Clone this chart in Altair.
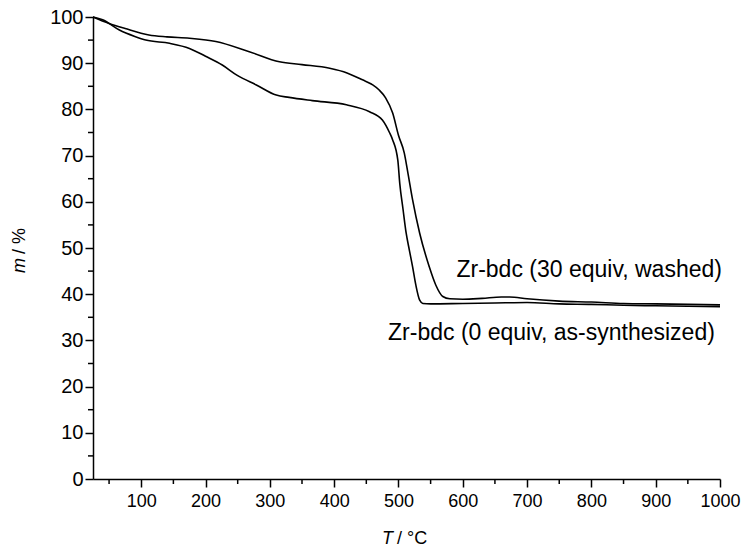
import altair as alt
import pandas as pd

# Zr-bdc (30 equiv, washed)
T_washed = [25, 50, 75, 112, 140, 175, 216, 268, 315, 350, 393, 420, 444, 460, 470, 480,
            491, 500, 509, 515, 522, 533, 548, 558, 569, 580, 600, 630, 660, 673, 700, 750,
            800, 850, 900, 950, 1000]
m_washed = [100, 98.6, 97.5, 96.1, 95.7, 95.4, 94.7, 92.5, 90.3, 89.7, 88.9, 87.9, 86.4, 85.3,
            84.2, 82.5, 79.2, 74.4, 70.6, 66.0, 60.4, 53.2, 45.9, 42.0, 39.5, 39.0, 38.9, 39.1,
            39.4, 39.4, 39.0, 38.5, 38.3, 38.0, 37.9, 37.8, 37.7]

# Zr-bdc (0 equiv, as-synthesized)
T_as = [25, 40, 66, 90, 107, 144, 175, 200, 226, 250, 279, 310, 330, 366, 419, 455, 475, 486,
        491, 499, 502, 507, 512, 517, 522, 527, 533, 538, 550, 600, 650, 700, 750, 800, 850,
        900, 950, 1000]
m_as = [100, 99.4, 97.2, 95.8, 95.0, 94.3, 93.2, 91.5, 89.6, 87.3, 85.3, 83.1, 82.6, 81.9,
        81.0, 79.5, 77.7, 75.0, 73.4, 69.0, 64.0, 58.5, 53.2, 49.5, 45.9, 42.0, 38.7, 38.0,
        37.9, 38.0, 38.1, 38.2, 37.9, 37.8, 37.6, 37.5, 37.4, 37.3]

label_text = ["Zr-bdc (30 equiv, washed)", "Zr-bdc (0 equiv, as-synthesized)"]
label_T = [1003, 992]
label_m = [43.7, 30.1]

x_major = list(range(100, 1001, 100))
x_minor = list(range(50, 1000, 100))
y_major = list(range(0, 101, 10))
y_minor = list(range(5, 100, 10))

rows = []
for i, (t, m) in enumerate(zip(T_washed, m_washed)):
    rows.append({"T": t, "m": m, "series": "washed", "idx": i})
for i, (t, m) in enumerate(zip(T_as, m_as)):
    rows.append({"T": t, "m": m, "series": "as", "idx": i})
df = pd.DataFrame(rows)
lab = pd.DataFrame({"T": label_T, "m": label_m, "text": label_text})

FONT = "Liberation Sans"
W, H = 627, 462
NBSP = "\u00a0"
xs = alt.Scale(domain=[25, 1000], nice=False, zero=False)
ys = alt.Scale(domain=[0, 100], nice=False, zero=False)

x_axis = alt.Axis(
    values=x_major, title=None, grid=False, tickSize=8, format="d",
    labelOverlap=False, labelBound=False, labelFlush=False,
    domainColor="black", domainWidth=1.5, tickColor="black", tickWidth=1.5,
    labelFont=FONT, labelFontSize=18, labelColor="black", labelPadding=5,
)
y_axis = alt.Axis(
    values=y_major, title=None, grid=False, tickSize=8, format="d",
    labelOverlap=False, labelBound=False, labelFlush=False,
    domainColor="black", domainWidth=1.5, tickColor="black", tickWidth=1.5,
    labelFont=FONT, labelFontSize=20, labelColor="black", labelPadding=2,
)

X = alt.X("T:Q", scale=xs, axis=x_axis)
Y = alt.Y("m:Q", scale=ys, axis=y_axis)

lines = alt.Chart(df).mark_line(color="black", strokeWidth=1.6, interpolate="monotone").encode(
    x=X, y=Y, detail="series:N", order="idx:Q",
)

xminor = alt.Chart(pd.DataFrame({"T": x_minor})).mark_rule(color="black", strokeWidth=1.5).encode(
    x=X, y=alt.value(H), y2=alt.value(H + 5)
)
yminor = alt.Chart(pd.DataFrame({"m": y_minor})).mark_rule(color="black", strokeWidth=1.5).encode(
    y=Y, x=alt.value(0), x2=alt.value(-5)
)

labels = alt.Chart(lab).mark_text(
    align="right", baseline="alphabetic", font=FONT, fontSize=23, color="black"
).encode(x=X, y=Y, text="text:N")

one = pd.DataFrame({"a": [0]})
ytitle_m = alt.Chart(one).mark_text(
    text="m", angle=270, align="right", baseline="alphabetic", font=FONT, fontSize=18,
    fontStyle="italic", color="black"
).encode(x=alt.value(-68), y=alt.value(241))
ytitle_rest = alt.Chart(one).mark_text(
    text=NBSP + "/" + NBSP + "%", angle=270, align="left", baseline="alphabetic", font=FONT,
    fontSize=18, color="black"
).encode(x=alt.value(-68), y=alt.value(237))
xtitle_t = alt.Chart(one).mark_text(
    text="T", align="right", baseline="alphabetic", font=FONT, fontSize=18,
    fontStyle="italic", color="black"
).encode(x=alt.value(300), y=alt.value(527))
xtitle_rest = alt.Chart(one).mark_text(
    text=NBSP + "/" + NBSP + "°C", align="left", baseline="alphabetic", font=FONT, fontSize=18,
    color="black"
).encode(x=alt.value(304), y=alt.value(527))

chart = alt.layer(lines, xminor, yminor, labels, ytitle_m, ytitle_rest, xtitle_t, xtitle_rest).properties(
    width=W, height=H,
    padding={"left": 93, "top": 17, "right": 23, "bottom": 72},
    autosize=alt.AutoSizeParams(type="none"),
    background="white",
).configure_view(stroke=None)

chart.save("out.html", embed_options={"renderer": "svg", "actions": False})
